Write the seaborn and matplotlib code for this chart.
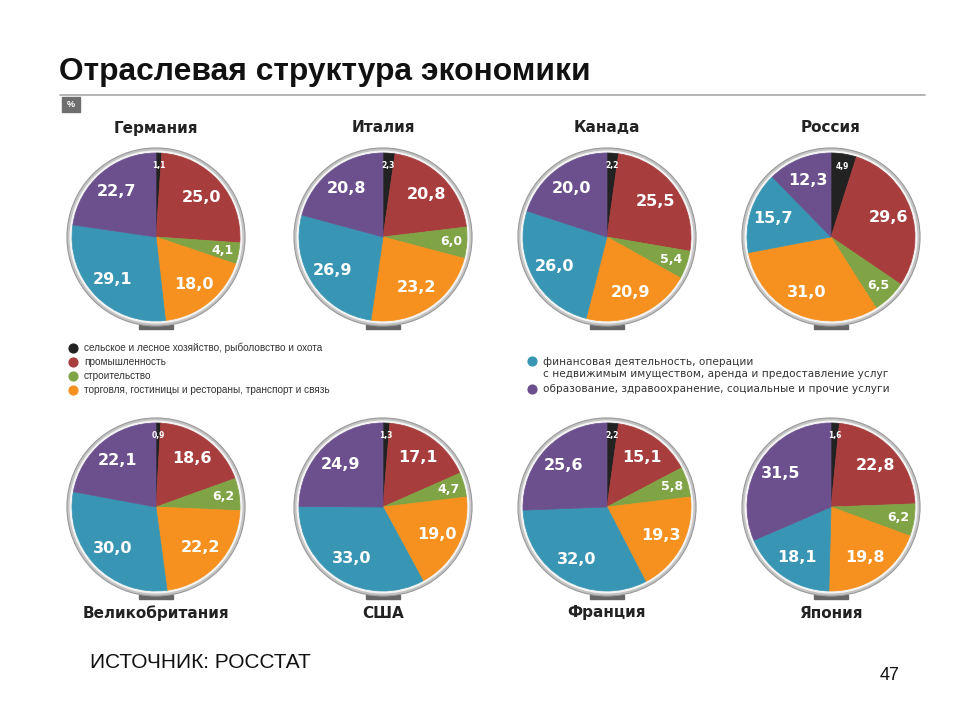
import matplotlib
matplotlib.use("Agg")
import matplotlib.pyplot as plt
from matplotlib.patches import Circle, Rectangle
import numpy as np
import seaborn as sns

# данные: доли отраслей, %
sectors = ["сельское и лесное хозяйство, рыболовство и охота",
           "промышленность",
           "строительство",
           "торговля, гостиницы и рестораны, транспорт и связь",
           "финансовая деятельность, операции\nс недвижимым имуществом, аренда и предоставление услуг",
           "образование, здравоохранение, социальные и прочие услуги"]

countries_top = ["Германия", "Италия", "Канада", "Россия"]
countries_bottom = ["Великобритания", "США", "Франция", "Япония"]

germany = [1.1, 25.0, 4.1, 18.0, 29.1, 22.7]
italy = [2.3, 20.8, 6.0, 23.2, 26.9, 20.8]
canada = [2.2, 25.5, 5.4, 20.9, 26.0, 20.0]
russia = [4.9, 29.6, 6.5, 31.0, 15.7, 12.3]
uk = [0.9, 18.6, 6.2, 22.2, 30.0, 22.1]
usa = [1.3, 17.1, 4.7, 19.0, 33.0, 24.9]
france = [2.2, 15.1, 5.8, 19.3, 32.0, 25.6]
japan = [1.6, 22.8, 6.2, 19.8, 18.1, 31.5]

values_top = [germany, italy, canada, russia]
values_bottom = [uk, usa, france, japan]

sns.set_theme(style="white")
plt.rcParams['font.family'] = ['Liberation Sans', 'DejaVu Sans']

colors = sns.color_palette(["#222222", "#a83d3d", "#80a445", "#f6901e", "#3896b4", "#6b508d"])

fig = plt.figure(figsize=(9.6, 7.2), dpi=100)
fig.patch.set_facecolor("white")

# фоновая ось в пикселях для текста
bg = fig.add_axes([0, 0, 1, 1])
bg.set_xlim(0, 960)
bg.set_ylim(720, 0)
bg.axis("off")

bg.text(59, 72, "Отраслевая структура экономики", fontsize=22.9, fontweight="bold",
        ha="left", va="center", color="#111111")
bg.plot([60, 925], [95, 95], color="#a8a8a8", lw=1.2)
bg.add_patch(Rectangle((62, 97), 18, 15, color="#6e6e6e"))
bg.text(71, 104.5, "%", fontsize=6.5, color="white", ha="center", va="center", fontweight="bold")

centers_x = [156, 383, 607, 831]
R = 84  # пикселей на единицу радиуса


def draw_pie(vals, cx, cy):
    ax = fig.add_axes([(cx - 100) / 960, (720 - cy - 100) / 720, 200 / 960, 200 / 720])
    lim = 100 / R
    ax.add_patch(Rectangle((-0.2, -1.09), 0.4, 0.04, color="#666666", zorder=0))
    ax.add_patch(Circle((0, 0), 1.06, facecolor="#c4c4c4", edgecolor="#999999", lw=0.8, zorder=1))
    ax.add_patch(Circle((0, 0), 1.03, facecolor="#f4f4f4", edgecolor="none", zorder=1))
    wedges, _ = ax.pie(vals, colors=colors, startangle=90, counterclock=False, radius=1.0,
                       wedgeprops=dict(linewidth=0.5, zorder=2), frame=True)
    for w in wedges:
        w.set_edgecolor(w.get_facecolor())
    ax.set_xlim(-lim, lim)
    ax.set_ylim(-lim, lim)
    ax.set_aspect("equal")
    ax.axis("off")
    total = sum(vals)
    start = 0.0
    for i, v in enumerate(vals):
        mid = (start + v / 2) / total * 2 * np.pi
        start += v
        if i == 0:
            r, fs = 0.85, 5.5
        elif i == 2:
            r, fs = 0.81, 9
        else:
            r, fs = 0.72, 11.5
        ax.text(r * np.sin(mid), r * np.cos(mid), f"{v:.1f}".replace(".", ","),
                color="white", fontsize=fs, fontweight="bold", ha="center", va="center",
                family="DejaVu Sans", zorder=5)


for name, vals, cx in zip(countries_top, values_top, centers_x):
    draw_pie(vals, cx, 237)
    bg.text(cx, 128, name, fontsize=11, fontweight="bold", family="DejaVu Sans",
            ha="center", va="center", color="#222222")

for name, vals, cx in zip(countries_bottom, values_bottom, centers_x):
    draw_pie(vals, cx, 507)
    bg.text(cx, 613, name, fontsize=11, fontweight="bold", family="DejaVu Sans",
            ha="center", va="center", color="#222222")

# легенда
left_y = [348, 362, 376, 390]
for i, y in enumerate(left_y):
    bg.scatter([73], [y], s=40, color=colors[i], zorder=3)
    bg.text(84, y, sectors[i], fontsize=7.2, ha="left", va="center", color="#333333")

bg.scatter([532], [361], s=40, color=colors[4], zorder=3)
bg.text(543, 368, sectors[4], fontsize=7.6, family="DejaVu Sans", ha="left", va="center",
        color="#333333", linespacing=1.35)
bg.scatter([532], [389], s=40, color=colors[5], zorder=3)
bg.text(543, 389, sectors[5], fontsize=7.6, family="DejaVu Sans", ha="left", va="center",
        color="#333333")

bg.text(90, 662, "ИСТОЧНИК: РОССТАТ", fontsize=15, ha="left", va="center", color="#111111")
bg.text(890, 676, "47", fontsize=13, ha="center", va="center", color="#111111")

fig.savefig("out.png", dpi=100, facecolor="white")
